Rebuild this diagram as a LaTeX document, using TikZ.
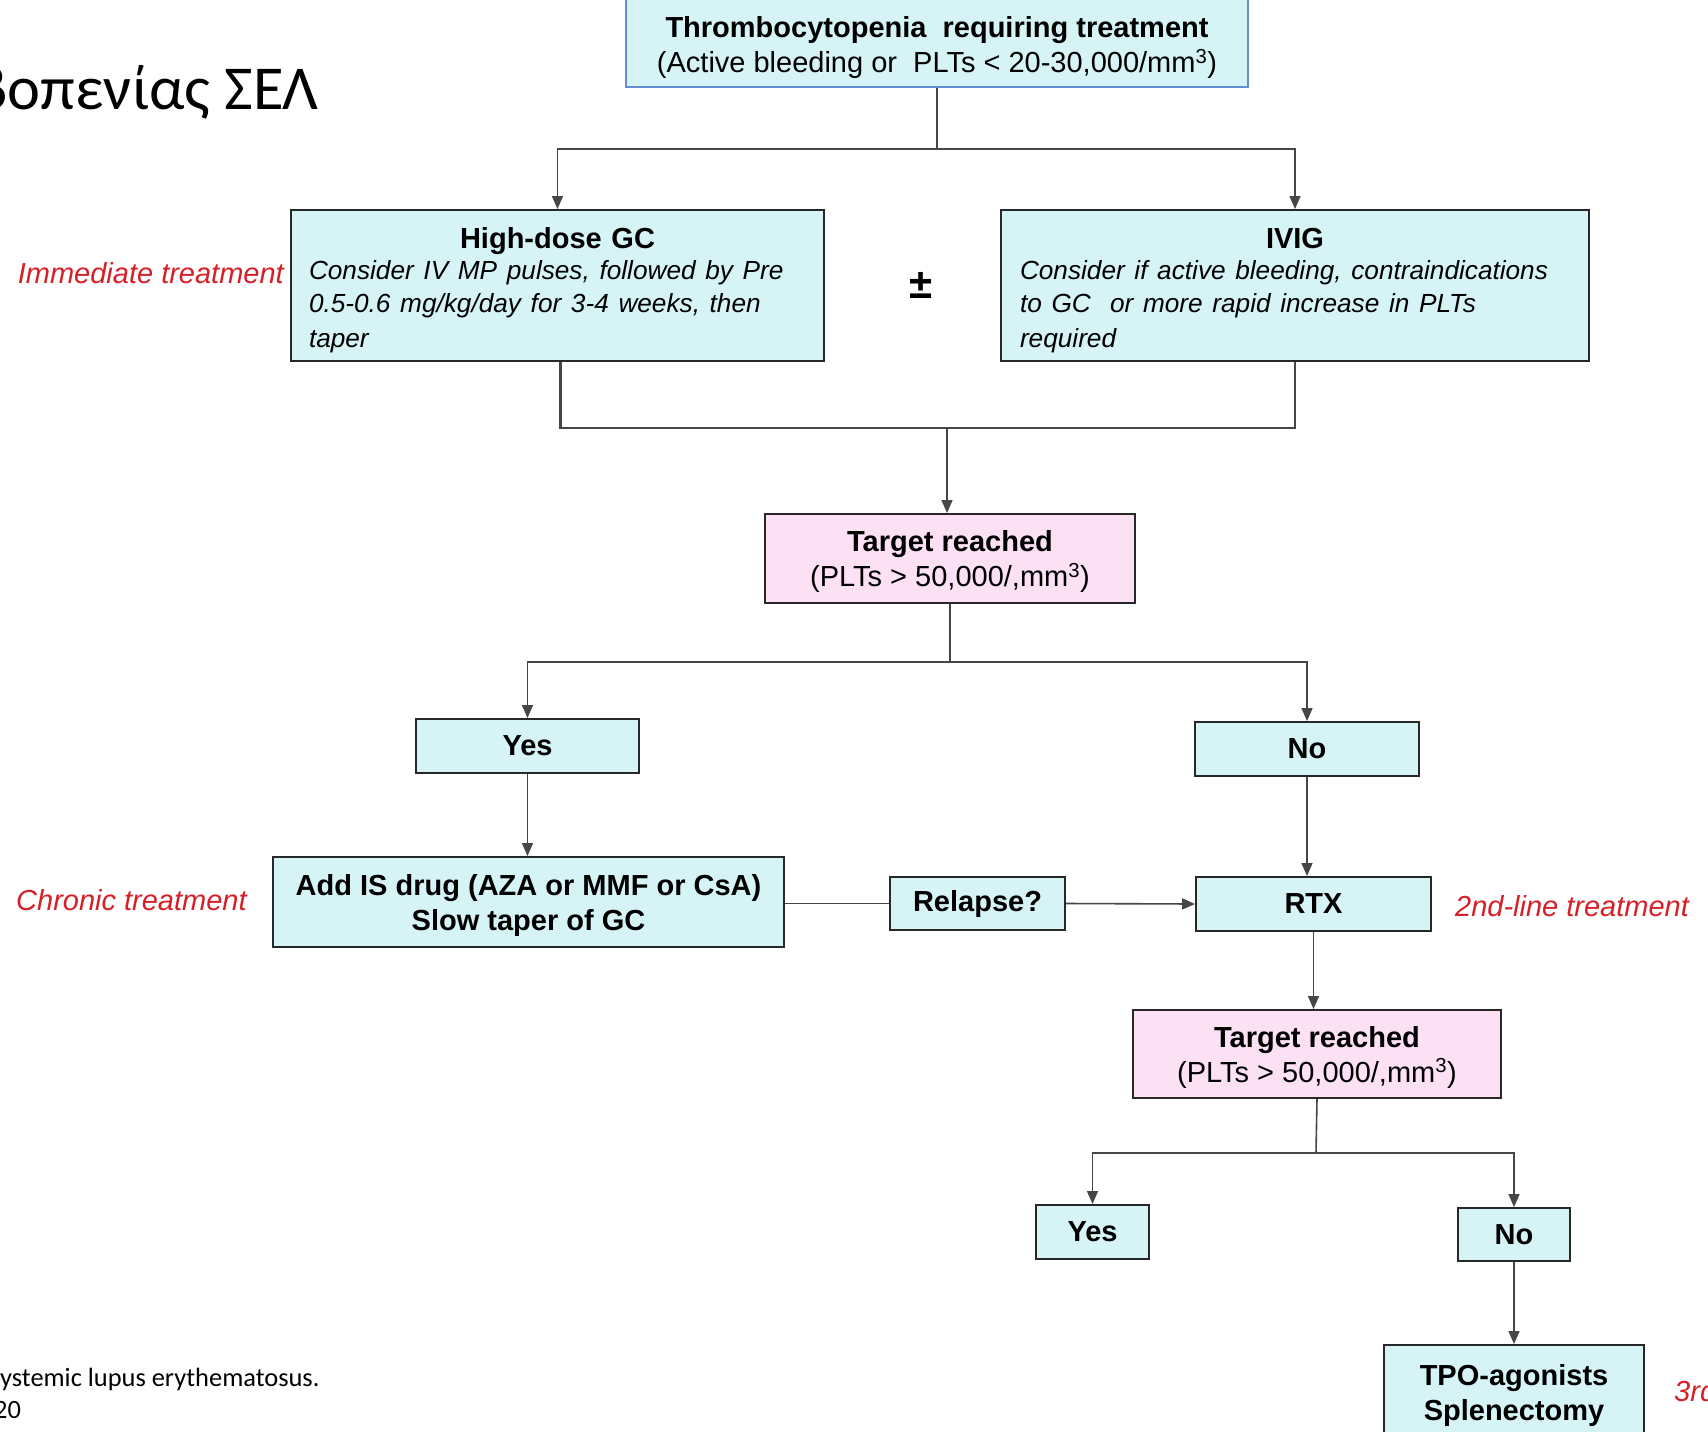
\documentclass[tikz,border=0pt]{standalone}
\usepackage{fontspec}
\setmainfont{Liberation Sans}
\newfontfamily\calibrifont{Carlito}
\usetikzlibrary{arrows.meta}
\definecolor{cyanfill}{RGB}{214,244,246}
\definecolor{pinkfill}{RGB}{252,224,244}
\definecolor{boxline}{RGB}{40,40,40}
\definecolor{topline}{RGB}{100,140,210}
\definecolor{connc}{RGB}{70,70,70}
\definecolor{labred}{RGB}{214,32,40}
\newcommand\mytopstrut[1]{\rule{0pt}{#1}}
\tikzset{
  box/.style={draw=boxline, line width=2pt, fill=cyanfill, inner sep=0pt, align=center,
    font=\fontsize{29}{35}\selectfont},
  pinkbox/.style={box, fill=pinkfill},
  conn/.style={draw=connc, line width=1.6pt},
  arr/.style={conn, -{Triangle[length=13pt,width=11pt]}},
  redlab/.style={text=labred, font=\fontsize{29}{35}\selectfont\itshape, inner sep=0pt},
}
\begin{document}
\begin{tikzpicture}[x=1pt,y=-1pt]
\clip (0,0) rectangle (1708,1432);
\fill[white] (0,0) rectangle (1708,1432);

% title and footnote
\node[anchor=base east, inner sep=0pt, font=\calibrifont\fontsize{62.5}{70}\selectfont] (title) at (319,109) {βοπενίας ΣΕΛ};
\node[anchor=base west, inner sep=0pt, font=\calibrifont\fontsize{26.4}{32}\selectfont] (foot1) at (0,1386) {ystemic lupus erythematosus.};
\node[anchor=base west, inner sep=0pt, font=\calibrifont\fontsize{26.4}{32}\selectfont] (foot2) at (-6,1418) {20};

% boxes
\node[box, draw=topline, minimum width=622pt, minimum height=90pt] (top) at (937,42)
  {\mytopstrut{32pt}\textbf{Thrombocytopenia\ \ requiring treatment}\\(Active bleeding or\ \ PLTs < 20-30,000/mm\textsuperscript{3})};

\node[box, minimum width=533pt, minimum height=151pt, text width=497pt, align=left] (gc) at (557.5,285.5)
  {\makebox[\linewidth][c]{\mytopstrut{30pt}\bfseries High-dose GC}\\[-1pt]
   {\fontsize{26.2}{32.5}\selectfont\itshape Consider IV MP pulses, followed by Pre\\0.5-0.6 mg/kg/day for 3-4 weeks, then\\taper}};

\node[box, minimum width=588pt, minimum height=151pt, text width=550pt, align=left] (ivig) at (1295,285.5)
  {\makebox[\linewidth][c]{\mytopstrut{30pt}\bfseries IVIG}\\[-1pt]
   {\fontsize{26.2}{32.5}\selectfont\itshape Consider if active bleeding, contraindications\\to GC\ \ or more rapid increase in PLTs\\required}};

\node[font=\bfseries\fontsize{42}{42}\selectfont, inner sep=0pt] (pm) at (921,285) {±};

\node[pinkbox, minimum width=370pt, minimum height=89pt] (t1) at (950,558.5)
  {\mytopstrut{27pt}\textbf{Target reached}\\(PLTs > 50,000/,mm\textsuperscript{3})};

\node[box, minimum width=223pt, minimum height=54pt] (yes1) at (527.5,746) {\textbf{Yes}};
\node[box, minimum width=224pt, minimum height=54pt] (no1) at (1307,749) {\textbf{No}};

\node[box, minimum width=511pt, minimum height=90pt] (add) at (528.5,902)
  {\mytopstrut{27pt}\textbf{Add IS drug (AZA or MMF or CsA)}\\\textbf{Slow taper of GC}};
\node[box, minimum width=175pt, minimum height=53pt] (rel) at (977.5,903.5) {\textbf{Relapse?}};
\node[box, minimum width=235pt, minimum height=54pt] (rtx) at (1313.5,904) {\textbf{RTX}};

\node[pinkbox, minimum width=368pt, minimum height=88pt] (t2) at (1317,1054)
  {\mytopstrut{27pt}\textbf{Target reached}\\(PLTs > 50,000/,mm\textsuperscript{3})};

\node[box, minimum width=113pt, minimum height=54pt] (yes2) at (1092.5,1232) {\textbf{Yes}};
\node[box, minimum width=112pt, minimum height=53pt] (no2) at (1514,1234.5) {\textbf{No}};

\node[box, minimum width=260pt, minimum height=100pt] (tpo) at (1514,1395)
  {\textbf{TPO-agonists}\\\textbf{Splenectomy}};

% red labels
\node[redlab, anchor=east] (lab1) at (284,273) {Immediate treatment};
\node[redlab, anchor=west] (lab2) at (16,900) {Chronic treatment};
\node[redlab, anchor=west] (lab3) at (1455,906) {2nd-line treatment};
\node[redlab, anchor=west] (lab4) at (1674,1391) {3rd-line treatment};

% connectors
\coordinate (j1) at (937,149);
\draw[conn] (top.south) -- (j1);
\draw[arr] (j1) -| (gc.north);
\draw[arr] (j1) -| (ivig.north);

\coordinate (j2) at (947,428);
\draw[conn, line width=2.6pt] (gc.south) ++(3,0) |- (j2) -| (ivig.south);
\draw[arr] (j2) -- (t1.north -| j2);

\coordinate (j3) at (950,662);
\draw[conn] (t1.south) -- (j3);
\draw[arr] (j3) -| (yes1.north);
\draw[arr] (j3) -| (no1.north);

\draw[arr] (yes1.south) -- (yes1.south |- add.north);
\draw[conn] (add.east |- rel.west) -- (rel.west);
\draw[arr] (rel.east) -- (rtx.west);
\draw[arr] (no1.south) -- (no1.south |- rtx.north);

\draw[arr] (rtx.south) -- (rtx.south |- t2.north);

\coordinate (j4) at (1316,1153);
\draw[conn] (t2.south) -- (j4);
\draw[arr] (j4) -| (yes2.north);
\draw[arr] (j4) -| (no2.north);
\draw[arr] (no2.south) -- (tpo.north);
\end{tikzpicture}
\end{document}
